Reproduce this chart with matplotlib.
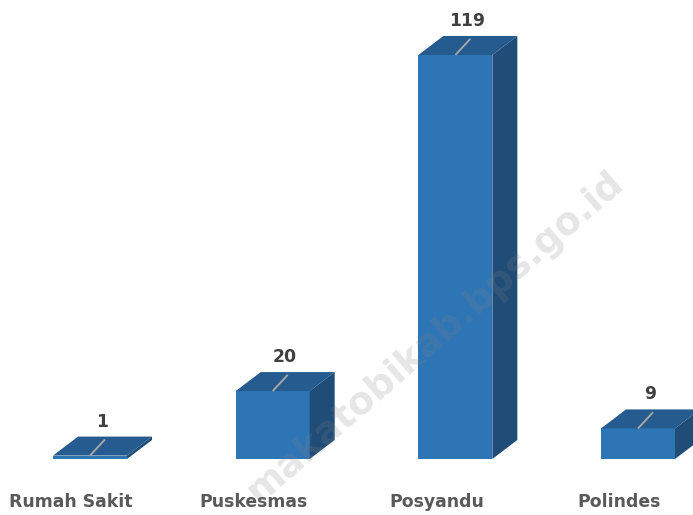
import matplotlib.pyplot as plt
from matplotlib.patches import Polygon
import matplotlib.transforms as mtransforms

categories = ["Rumah Sakit", "Puskesmas", "Posyandu", "Polindes"]
values = [1, 20, 119, 9]

front_color = "#2E75B6"
top_color = "#255B8F"
side_color = "#1F4D78"

plt.rcParams['font.family'] = ['DejaVu Sans']

fig = plt.figure(figsize=(6.93, 5.15), dpi=100)
ax = fig.add_axes([0, 0, 1, 1])
ax.set_xlim(-0.4927, 3.301)
ax.set_ylim(-16.5, 135.2)
ax.axis("off")

width = 0.405
dx = 0.137   # depth in category units
dy = 5.6     # depth in value units

xs = list(range(len(values)))
bars = ax.bar(xs, values, width=width, color=front_color, edgecolor="none", zorder=2)

for x, v in zip(xs, values):
    l, r = x - width / 2, x + width / 2
    top = Polygon([(l, v), (r, v), (r + dx, v + dy), (l + dx, v + dy)],
                  closed=True, facecolor=top_color, edgecolor="none", zorder=2)
    side = Polygon([(r, 0), (r + dx, dy), (r + dx, v + dy), (r, v)],
                   closed=True, facecolor=side_color, edgecolor="none", zorder=2)
    ax.add_patch(top)
    ax.add_patch(side)
    # leader line across the top face
    ax.plot([x, x + dx * 0.6], [v, v + dy * 0.85], color="#A6A6A6", lw=1.4,
            solid_capstyle="butt", zorder=3)
    lab = mtransforms.offset_copy(ax.transData, fig=fig, x=0, y=34, units="dots")
    ax.text(x + 0.065, v, str(v), transform=lab, ha="center", va="center",
            fontsize=12.4, fontweight="bold", color="#404040", zorder=4)
    cat = mtransforms.offset_copy(ax.transData, fig=fig, x=0, y=-43, units="dots")
    ax.text(x - 0.104, 0, categories[x], transform=cat, ha="center", va="center",
            fontsize=12.4, fontweight="bold", color="#595959", zorder=4)

# watermark
fig.text(0.628, 0.345, "makatobikab.bps.go.id", rotation=41, ha="center", va="center",
         fontsize=27, fontweight="bold", color="#808080", alpha=0.2, zorder=3)

fig.savefig("out.png", dpi=100)
